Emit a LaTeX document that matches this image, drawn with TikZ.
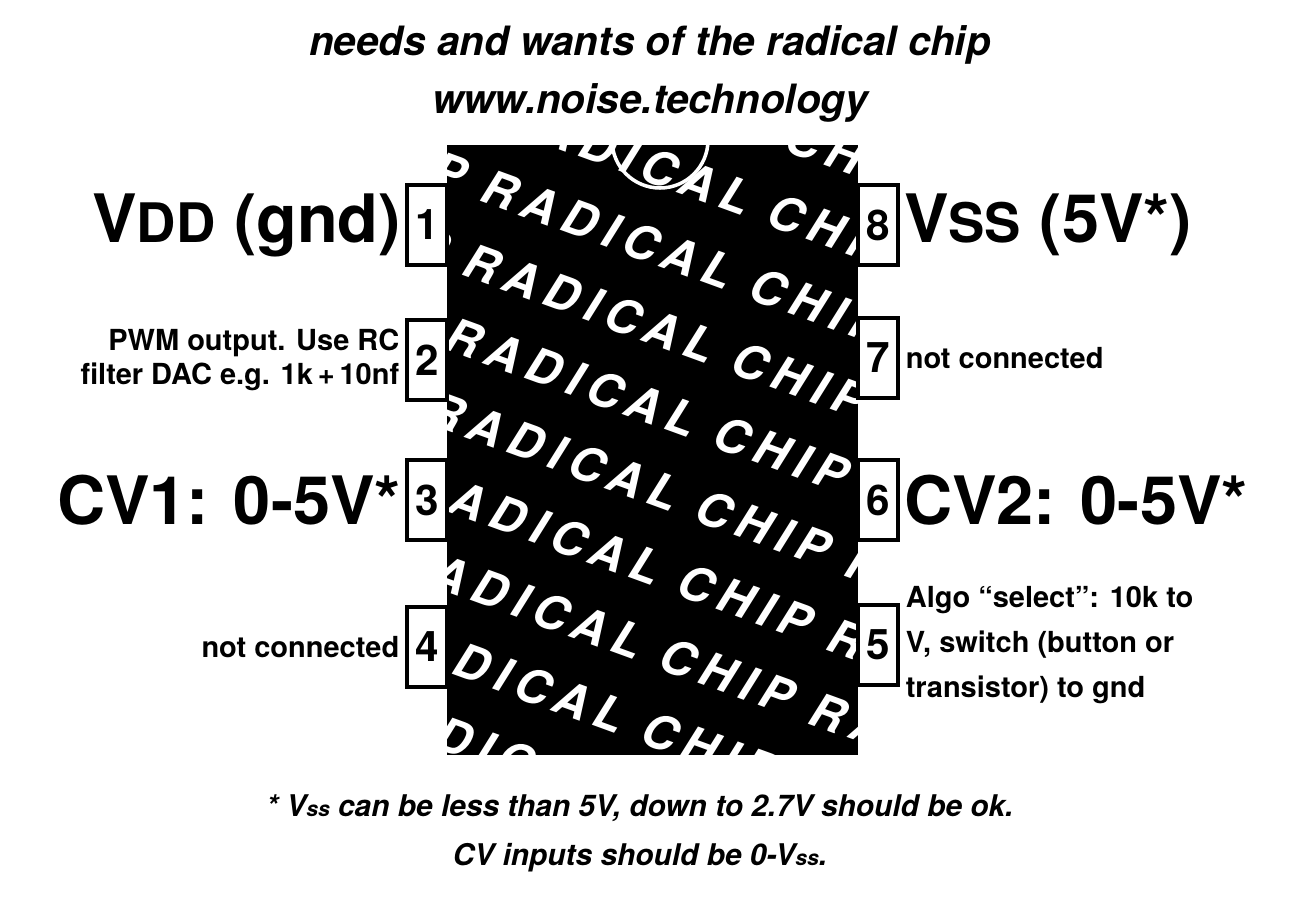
\documentclass[tikz,border=0pt]{standalone}
\usepackage{fontspec}
\setmainfont{TeX Gyre Heros}
\newfontfamily\chipfont[LetterSpace=18]{TeX Gyre Heros}
\newcommand{\fs}[1]{\fontsize{#1}{1.2\dimexpr#1\relax}\selectfont}
\tikzset{
  pinbox/.style={draw, line width=2.5pt, minimum width=0.8cm, minimum height=1.6cm, inner sep=0pt, font=\fs{24pt}\bfseries},
  biglabel/.style={font=\fs{38pt}\bfseries, inner sep=2pt},
  smalllabel/.style={font=\fs{16.5pt}\bfseries, inner sep=3pt, align=left},
  chiptext/.style={white, font=\chipfont\fs{27pt}\bfseries\itshape, rotate=-20, anchor=west}
}
\begin{document}
\begin{tikzpicture}[x=0.02cm,y=-0.02cm]
		\useasboundingbox (0,0) rectangle (1300,900);
		% title
		\node (title) at (650,45) {\fs{23pt}\bfseries\itshape needs and wants of the radical chip};
		\node (web) at (650,103) {\fs{23pt}\bfseries\itshape www.noise.technology};
		% chip body
		\fill (447,145) rectangle (858,755);
		\begin{scope}
		\clip (447,145) rectangle (858,755);
		\foreach \r in {-3,...,8}
			\node[chiptext] at (60-18*\r, 30+74*\r) {RADICAL CHIP RADICAL CHIP RADICAL};
		\draw[white, line width=2pt] (660,140) circle (48);
		\end{scope}
		% pins
		\node[pinbox] (p1) at (427,225) {1};
		\node[pinbox] (p2) at (427,360) {2};
		\node[pinbox] (p3) at (427,500) {3};
		\node[pinbox] (p4) at (427,647) {4};
		\node[pinbox] (p8) at (878,225) {8};
		\node[pinbox] (p7) at (878,358) {7};
		\node[pinbox] (p6) at (878,500) {6};
		\node[pinbox] (p5) at (878,645) {5};
		% labels
		\node[biglabel, anchor=east] (l1) at (p1.west) {V{\fs{31pt}DD} (gnd)};
		\node[smalllabel, anchor=east, align=right] (l2) at (p2.west) {PWM output. Use RC\\filter DAC e.g. 1k\,+\,10nf};
		\node[biglabel, anchor=east] (l3) at (p3.west) {CV1: 0-5V*};
		\node[smalllabel, anchor=east] (l4) at (p4.west) {not connected};
		\node[biglabel, anchor=west] (l8) at (p8.east) {V{\fs{31pt}SS} (5V*)};
		\node[smalllabel, anchor=west] (l7) at (p7.east) {not connected};
		\node[biglabel, anchor=west] (l6) at (p6.east) {CV2: 0-5V*};
		\node[smalllabel, anchor=west, font=\fs{16.5pt}\bfseries\linespread{1.3}\selectfont] (l5) at (p5.east) {Algo “select”: 10k to\\V, switch (button or\\transistor) to gnd};
		% footnote
		\node (f1) at (640,808) {\fs{17pt}\bfseries\itshape * V{\fs{12pt}ss} can be less than 5V, down to 2.7V should be ok.};
		\node (f2) at (640,858) {\fs{17pt}\bfseries\itshape CV inputs should be 0-V{\fs{12pt}ss}.};
\end{tikzpicture}
\end{document}
